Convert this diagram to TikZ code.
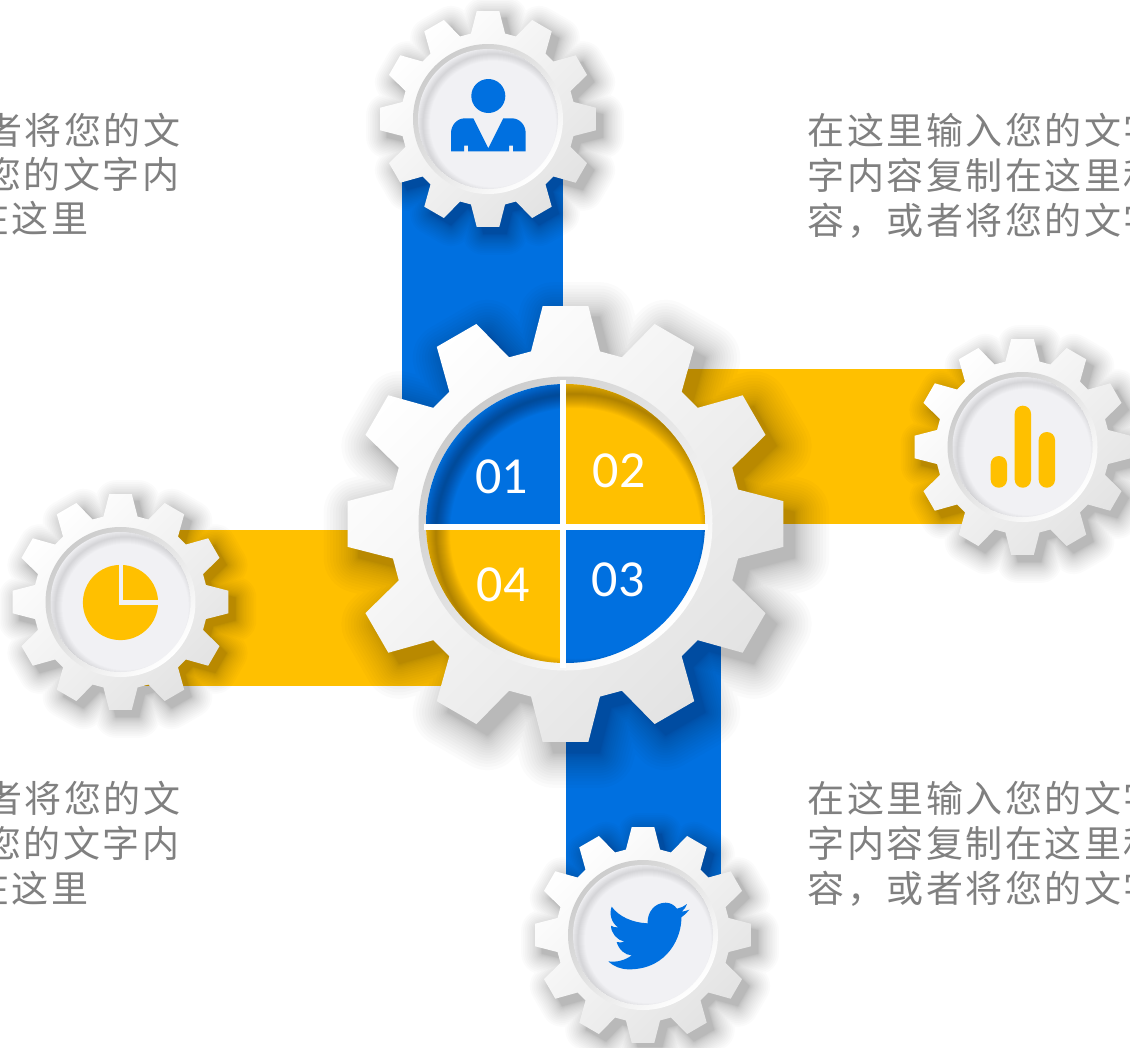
\documentclass[tikz,border=0pt]{standalone}
\usepackage{fontspec}
\newfontfamily\digitfont{Carlito}
\newfontfamily\cjk[LetterSpace=6.8]{Noto Sans CJK SC}
\definecolor{bluec}{HTML}{0070E0}
\definecolor{yellowc}{HTML}{FFC000}
\definecolor{facec}{HTML}{F1F1F4}
\definecolor{textc}{HTML}{808080}
\newcommand\gearpath{(-11.3:176) \foreach \a in {0,30,...,330}{ -- (\a-11.3:176) -- (\a-6:219) -- (\a+6:219) -- (\a+11.3:176)} -- cycle}
% gear shadow: centre x, centre y, scale, offset, max width
\newcommand\gearshadow[5]{%
  \begin{scope}[shift={(#1pt+#4pt,-#2pt-#4pt)},scale=#3]
    \foreach \w in {1,...,18}{
      \begin{scope}[transparency group,opacity=.014]
        \pgfmathsetmacro\lw{#5*pow(\w/18,1.7)}
        \filldraw[black,line join=round,line width=\lw pt] \gearpath;
      \end{scope}
    }
  \end{scope}}
\newcommand\gearbody[3]{%
  \begin{scope}[shift={(#1pt,-#2pt)},scale=#3]
    \shade[left color=white,right color=gray!22,shading angle=45] \gearpath;
  \end{scope}}
\newcommand\ringat[4]{%
  \shade[left color=gray!40,right color=white,shading angle=45] (#1,#2) circle[radius=#3pt];
}
\newcommand\insetshadow[5]{%
  \begin{scope}
    \clip (#1,#2) circle[radius=#3pt];
    \foreach \w in {1,...,14}{
      \draw[black,draw opacity=#5,line width=\w*#4pt*0.2pt] (#1+#4,#2+#4) circle[radius=#3pt];
    }
  \end{scope}}
\begin{document}
\begin{tikzpicture}[x=1pt,y=-1pt,
  cjktext/.style={anchor=base west,inner sep=0pt,text=textc,font=\fontsize{37}{37}\selectfont\cjk},
  digit/.style={inner sep=0pt,text=white,font=\fontsize{52}{52}\selectfont\digitfont}]
\useasboundingbox (0,0) rectangle (1130,1047);
\clip (0,0) rectangle (1130,1047);
\fill[white] (0,0) rectangle (1130,1047);

% ribbons
\fill[bluec] (402,150) rectangle (562.5,480);
\fill[bluec] (566,560) rectangle (721,900);
\fill[yellowc] (640,369) rectangle (1020,524);
\fill[yellowc] (120,530) rectangle (500,686);

% shadows
\gearshadow{488}{119}{.495}{7}{42}
\gearshadow{1022.5}{447}{.495}{7}{42}
\gearshadow{120.5}{602}{.495}{7}{42}
\gearshadow{643}{935}{.495}{7}{42}
\gearshadow{565.5}{524}{1}{11}{70}

% gears
\gearbody{488}{119}{.495}
\gearbody{1022.5}{447}{.495}
\gearbody{120.5}{602}{.495}
\gearbody{643}{935}{.495}
\gearbody{565.5}{524}{1}

% small gear faces
\foreach \cx/\cy in {488/119,1022.5/447,120.5/602,643/935}{
  \ringat{\cx}{\cy}{75}{70}
  \fill[facec] (\cx,\cy) circle[radius=70pt];
  \insetshadow{\cx}{\cy}{70}{5}{.008}
}

% main dial
\ringat{565.5}{523.5}{147}{139.5}
\begin{scope}
  \clip (565.5,523.5) circle[radius=139.5pt];
  \fill[white] (420,380) rectangle (710,670);
  \fill[bluec] (420,380) rectangle (560.4,524.4);
  \fill[yellowc] (566,380) rectangle (710,524.4);
  \fill[yellowc] (420,530) rectangle (560.4,670);
  \fill[bluec] (566,530) rectangle (710,670);
\end{scope}
\insetshadow{565.5}{523.5}{139.5}{10}{.022}
\draw[white,line width=5.6pt] (563.2,380) -- (563.2,668);
\draw[white,line width=5.6pt] (424,527.2) -- (708,527.2);

\node[digit] (n01) at (501.7,476.7) {01};
\node[digit] (n02) at (619.3,471) {02};
\node[digit] (n03) at (618,580) {03};
\node[digit] (n04) at (503,585) {04};

% person icon
\fill[bluec] (488.3,96) circle[radius=17pt];
\fill[bluec] (451,151.3) -- (451,133.3) .. controls (451,125) and (457,118.3) .. (465,118.3)
  -- (473.3,118.3) -- (488.3,148.3) -- (503.3,118.3) -- (511.7,118.3)
  .. controls (519.7,118.3) and (525.7,125) .. (525.7,133.3) -- (525.7,151.3)
  -- (513,151.3) -- (513,145.7) -- (509,145.7) -- (509,151.3)
  -- (468,151.3) -- (468,145.7) -- (464,145.7) -- (464,151.3) -- cycle;

% bar chart icon
\fill[yellowc,rounded corners=8pt] (990.7,456) rectangle (1007,487.7);
\fill[yellowc,rounded corners=8pt] (1014.7,405.7) rectangle (1031,487.7);
\fill[yellowc,rounded corners=8pt] (1038.7,432) rectangle (1055,487.7);

% pie icon
\fill[yellowc] (120.5,602.5) circle[radius=37.6pt];
\draw[facec,line width=4.3pt] (120.8,562) -- (120.8,602.5) -- (160,602.5);

% bird icon
\begin{scope}[shift={(595pt,-890pt)},x=.3333pt,y=-.3333pt]
\fill[bluec] (158,100) .. controls (156,68) and (178,38) .. (212,38)
  .. controls (226,38) and (238,45) .. (246,56)
  .. controls (257,54) and (267,49) .. (276,42)
  .. controls (273,51) and (268,59) .. (260,65)
  .. controls (268,64) and (276,62) .. (283,59)
  .. controls (276,68) and (268,76) .. (259,82)
  .. controls (261,135) and (222,238) .. (102,238)
  .. controls (78,238) and (57,230) .. (40,214)
  .. controls (65,218) and (92,210) .. (110,196)
  .. controls (90,195) and (72,180) .. (65,156)
  .. controls (73,158) and (81,158) .. (88,155)
  .. controls (66,150) and (48,130) .. (48,107)
  .. controls (54,111) and (61,113) .. (69,112)
  .. controls (49,98) and (42,72) .. (50,50)
  .. controls (72,80) and (112,98) .. (158,100) -- cycle;
\end{scope}

% texts
\node[cjktext] (lt1) at (-15,144) {者将您的文};
\node[cjktext] (lt2) at (-16,188.5) {您的文字内};
\node[cjktext] (lt3) at (-28,232.5) {在这里};
\node[cjktext] (lb1) at (-15,812.5) {者将您的文};
\node[cjktext] (lb2) at (-16,857.5) {您的文字内};
\node[cjktext] (lb3) at (-28,902) {在这里};
\node[cjktext] (rt1) at (807.5,144.5) {在这里输入您的文字};
\node[cjktext] (rt2) at (807.5,189.5) {字内容复制在这里和};
\node[cjktext] (rt3) at (807.5,234.5) {容，或者将您的文字};
\node[cjktext] (rb1) at (807.5,812.5) {在这里输入您的文字};
\node[cjktext] (rb2) at (807.5,857.5) {字内容复制在这里和};
\node[cjktext] (rb3) at (807.5,902) {容，或者将您的文字};
\end{tikzpicture}
\end{document}
